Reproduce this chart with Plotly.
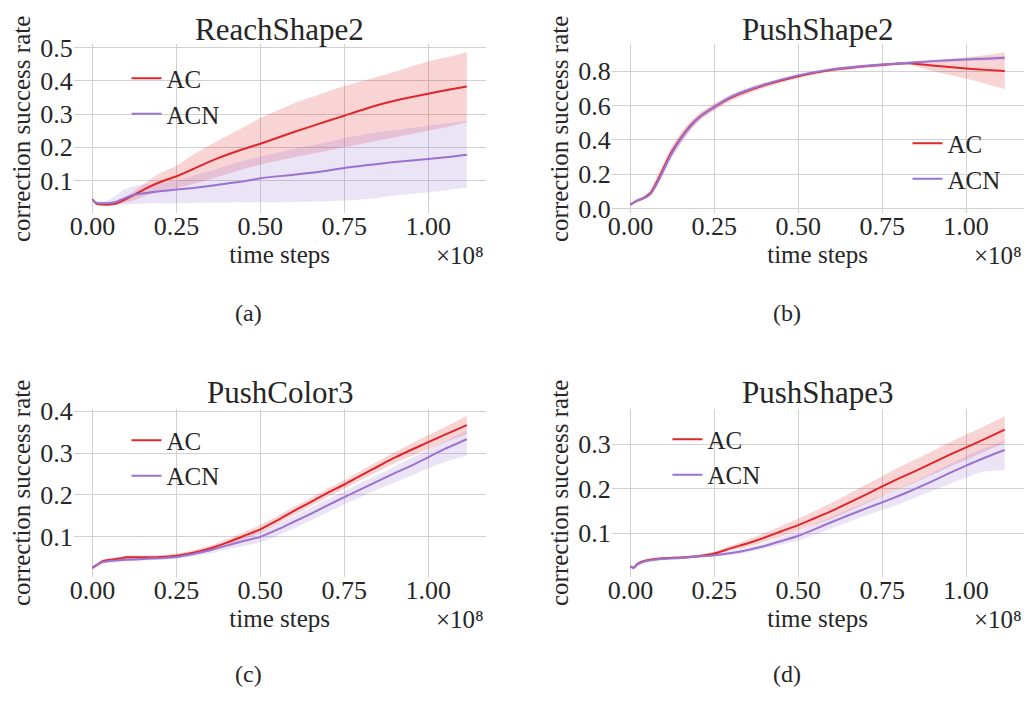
import plotly.graph_objects as go

# ---------------- data (time steps in units of 1e8) ----------------
# (a) ReachShape2
x_a = [0.0, 0.01, 0.03, 0.05, 0.07, 0.09, 0.12, 0.16, 0.2, 0.25, 0.3, 0.37, 0.45, 0.5, 0.6, 0.7, 0.75, 0.85, 0.9, 1.0, 1.06, 1.115]
ac_a = [0.044, 0.032, 0.028, 0.028, 0.031, 0.040, 0.055, 0.077, 0.095, 0.113, 0.135, 0.166, 0.195, 0.211, 0.246, 0.279, 0.295, 0.327, 0.340, 0.361, 0.373, 0.383]
ac_a_hi = [0.046, 0.035, 0.031, 0.031, 0.035, 0.045, 0.065, 0.095, 0.122, 0.145, 0.178, 0.218, 0.260, 0.288, 0.332, 0.367, 0.384, 0.412, 0.427, 0.458, 0.472, 0.486]
ac_a_lo = [0.040, 0.029, 0.025, 0.025, 0.027, 0.032, 0.040, 0.055, 0.066, 0.078, 0.090, 0.110, 0.135, 0.148, 0.170, 0.190, 0.200, 0.220, 0.230, 0.250, 0.262, 0.275]
acn_a = [0.042, 0.034, 0.032, 0.033, 0.036, 0.045, 0.057, 0.063, 0.068, 0.073, 0.078, 0.087, 0.098, 0.107, 0.118, 0.130, 0.138, 0.150, 0.156, 0.165, 0.171, 0.178]
acn_a_hi = [0.045, 0.038, 0.038, 0.042, 0.055, 0.070, 0.082, 0.090, 0.094, 0.100, 0.115, 0.135, 0.160, 0.172, 0.195, 0.215, 0.228, 0.245, 0.252, 0.265, 0.272, 0.280]
acn_a_lo = [0.038, 0.030, 0.027, 0.027, 0.027, 0.028, 0.030, 0.031, 0.032, 0.032, 0.033, 0.034, 0.035, 0.035, 0.036, 0.038, 0.040, 0.048, 0.055, 0.065, 0.072, 0.079]

# (b) PushShape2
x_b = [0.0, 0.02, 0.04, 0.06, 0.08, 0.1, 0.12, 0.15, 0.18, 0.21, 0.25, 0.3, 0.35, 0.4, 0.5, 0.6, 0.7, 0.75, 0.83, 0.9, 1.0, 1.06, 1.115]
ac_b = [0.022, 0.045, 0.062, 0.090, 0.160, 0.240, 0.320, 0.410, 0.485, 0.540, 0.590, 0.645, 0.685, 0.718, 0.770, 0.807, 0.828, 0.836, 0.846, 0.832, 0.815, 0.807, 0.800]
ac_b_hi = [0.030, 0.053, 0.072, 0.110, 0.190, 0.270, 0.350, 0.440, 0.510, 0.562, 0.610, 0.663, 0.702, 0.733, 0.782, 0.817, 0.838, 0.845, 0.855, 0.858, 0.880, 0.893, 0.910]
ac_b_lo = [0.015, 0.037, 0.052, 0.075, 0.135, 0.210, 0.290, 0.380, 0.460, 0.518, 0.570, 0.627, 0.668, 0.703, 0.758, 0.797, 0.818, 0.827, 0.837, 0.800, 0.755, 0.725, 0.695]
acn_b = [0.022, 0.045, 0.060, 0.085, 0.150, 0.230, 0.310, 0.405, 0.480, 0.538, 0.592, 0.650, 0.690, 0.722, 0.775, 0.810, 0.830, 0.838, 0.848, 0.858, 0.868, 0.872, 0.877]
acn_b_hi = [0.028, 0.052, 0.068, 0.100, 0.170, 0.255, 0.335, 0.430, 0.500, 0.555, 0.605, 0.662, 0.700, 0.731, 0.783, 0.818, 0.838, 0.846, 0.856, 0.867, 0.878, 0.883, 0.889]
acn_b_lo = [0.016, 0.038, 0.052, 0.072, 0.130, 0.205, 0.285, 0.380, 0.460, 0.520, 0.578, 0.638, 0.680, 0.713, 0.767, 0.802, 0.822, 0.830, 0.840, 0.849, 0.858, 0.861, 0.865]

# (c) PushColor3
x_c = [0.0, 0.01, 0.03, 0.05, 0.08, 0.1, 0.15, 0.2, 0.25, 0.3, 0.35, 0.4, 0.45, 0.5, 0.55, 0.6, 0.65, 0.7, 0.75, 0.8, 0.85, 0.9, 0.95, 1.0, 1.05, 1.115]
ac_c = [0.026, 0.031, 0.042, 0.045, 0.048, 0.051, 0.051, 0.052, 0.055, 0.062, 0.072, 0.086, 0.102, 0.118, 0.139, 0.162, 0.183, 0.205, 0.225, 0.247, 0.268, 0.289, 0.308, 0.326, 0.344, 0.367]
ac_c_hi = [0.030, 0.035, 0.046, 0.049, 0.052, 0.055, 0.055, 0.056, 0.060, 0.068, 0.079, 0.094, 0.111, 0.128, 0.149, 0.172, 0.193, 0.215, 0.235, 0.258, 0.280, 0.302, 0.323, 0.343, 0.362, 0.389]
ac_c_lo = [0.022, 0.027, 0.038, 0.041, 0.044, 0.047, 0.047, 0.048, 0.051, 0.057, 0.066, 0.079, 0.094, 0.109, 0.130, 0.152, 0.173, 0.195, 0.215, 0.236, 0.256, 0.276, 0.293, 0.309, 0.326, 0.345]
acn_c = [0.027, 0.032, 0.040, 0.042, 0.044, 0.045, 0.047, 0.049, 0.052, 0.059, 0.068, 0.079, 0.090, 0.100, 0.117, 0.136, 0.155, 0.175, 0.195, 0.214, 0.233, 0.252, 0.270, 0.290, 0.310, 0.333]
acn_c_hi = [0.031, 0.036, 0.044, 0.046, 0.048, 0.049, 0.051, 0.053, 0.057, 0.065, 0.075, 0.088, 0.100, 0.112, 0.130, 0.150, 0.170, 0.190, 0.209, 0.229, 0.248, 0.268, 0.288, 0.308, 0.328, 0.354]
acn_c_lo = [0.023, 0.028, 0.036, 0.038, 0.040, 0.041, 0.043, 0.045, 0.047, 0.053, 0.060, 0.070, 0.078, 0.087, 0.102, 0.120, 0.139, 0.158, 0.178, 0.196, 0.213, 0.230, 0.246, 0.264, 0.279, 0.294]

# (d) PushShape3
x_d = [0.0, 0.01, 0.02, 0.04, 0.06, 0.1, 0.15, 0.2, 0.25, 0.3, 0.35, 0.4, 0.45, 0.5, 0.55, 0.6, 0.65, 0.7, 0.75, 0.8, 0.85, 0.9, 0.95, 1.0, 1.05, 1.115]
ac_d = [0.025, 0.022, 0.030, 0.037, 0.040, 0.043, 0.045, 0.048, 0.054, 0.066, 0.077, 0.090, 0.104, 0.118, 0.134, 0.150, 0.168, 0.186, 0.205, 0.223, 0.240, 0.258, 0.276, 0.293, 0.310, 0.333]
ac_d_hi = [0.028, 0.025, 0.033, 0.040, 0.043, 0.046, 0.048, 0.051, 0.058, 0.072, 0.085, 0.100, 0.116, 0.132, 0.150, 0.168, 0.188, 0.208, 0.228, 0.248, 0.266, 0.285, 0.304, 0.322, 0.339, 0.363]
ac_d_lo = [0.022, 0.019, 0.027, 0.034, 0.037, 0.040, 0.042, 0.045, 0.050, 0.060, 0.069, 0.080, 0.092, 0.105, 0.119, 0.133, 0.149, 0.166, 0.183, 0.199, 0.215, 0.232, 0.249, 0.265, 0.282, 0.303]
acn_d = [0.024, 0.022, 0.029, 0.036, 0.039, 0.042, 0.044, 0.047, 0.050, 0.055, 0.062, 0.071, 0.082, 0.094, 0.109, 0.125, 0.140, 0.155, 0.169, 0.184, 0.200, 0.217, 0.235, 0.252, 0.268, 0.287]
acn_d_hi = [0.027, 0.025, 0.032, 0.039, 0.042, 0.045, 0.047, 0.050, 0.053, 0.059, 0.067, 0.077, 0.090, 0.104, 0.120, 0.137, 0.153, 0.169, 0.184, 0.200, 0.217, 0.236, 0.255, 0.273, 0.290, 0.308]
acn_d_lo = [0.021, 0.019, 0.026, 0.033, 0.036, 0.039, 0.041, 0.044, 0.047, 0.051, 0.057, 0.065, 0.074, 0.083, 0.096, 0.111, 0.125, 0.139, 0.152, 0.165, 0.180, 0.195, 0.210, 0.225, 0.238, 0.242]

titles = ["ReachShape2", "PushShape2", "PushColor3", "PushShape3"]
sub_labels = ["(a)", "(b)", "(c)", "(d)"]
series_names = ["AC", "ACN"]
x_tick_vals = [0.0, 0.25, 0.5, 0.75, 1.0]
x_tick_text = ["0.00", "0.25", "0.50", "0.75", "1.00"]
y_ticks_a = [0.1, 0.2, 0.3, 0.4, 0.5]
y_ticks_b = [0.0, 0.2, 0.4, 0.6, 0.8]
y_ticks_c = [0.1, 0.2, 0.3, 0.4]
y_ticks_d = [0.1, 0.2, 0.3]
x_scale_text = "×10⁸"

# ---------------- styling ----------------
W, H = 1029, 701
FONT = "Liberation Serif, Times New Roman, serif"
TXT = "#262626"
RED = "#e0262b"
PURPLE = "#9a72d0"
RED_FILL = "rgba(224,38,43,0.2)"
PURPLE_FILL = "rgba(154,114,208,0.2)"
GRID = "#d0d0d0"
TICK_SIZE = 26


def px_x(p):
    return p / W


def px_y(p):
    return 1 - p / H


col_dom = [[px_x(70), px_x(483.5)], [px_x(610), px_x(1023.5)]]
row_dom = [[px_y(208.5), px_y(34.5)], [px_y(583.5), px_y(410)]]

panels = [
    dict(x=x_a, ac=(ac_a, ac_a_lo, ac_a_hi), acn=(acn_a, acn_a_lo, acn_a_hi),
         yticks=y_ticks_a, yfmt="{:.1f}", yrange=[0.002, 0.509], row=0, col=0,
         legend=dict(x=123, y=46)),
    dict(x=x_b, ac=(ac_b, ac_b_lo, ac_b_hi), acn=(acn_b, acn_b_lo, acn_b_hi),
         yticks=y_ticks_b, yfmt="{:.1f}", yrange=[-0.028, 0.955], row=0, col=1,
         legend=dict(x=907, y=113)),
    dict(x=x_c, ac=(ac_c, ac_c_lo, ac_c_hi), acn=(acn_c, acn_c_lo, acn_c_hi),
         yticks=y_ticks_c, yfmt="{:.1f}", yrange=[0.004, 0.406], row=1, col=0,
         legend=dict(x=123, y=419)),
    dict(x=x_d, ac=(ac_d, ac_d_lo, ac_d_hi), acn=(acn_d, acn_d_lo, acn_d_hi),
         yticks=y_ticks_d, yfmt="{:.1f}", yrange=[0.001, 0.380], row=1, col=1,
         legend=dict(x=666, y=418)),
]

fig = go.Figure()
layout = dict(
    width=W, height=H, autosize=False,
    margin=dict(l=0, r=0, t=0, b=0),
    paper_bgcolor="white", plot_bgcolor="white",
    font=dict(family=FONT, size=25, color=TXT),
    annotations=[],
)

for i, p in enumerate(panels):
    k = "" if i == 0 else str(i + 1)
    xa, ya = "x" + k, "y" + k
    leg = "legend" + k
    for (name, (m, lo, hi)), lc, fc in zip([("AC", p["ac"]), ("ACN", p["acn"])], [RED, PURPLE], [RED_FILL, PURPLE_FILL]):
        fig.add_trace(go.Scatter(x=p["x"], y=lo, xaxis=xa, yaxis=ya, mode="lines",
                                 line=dict(width=0, color=lc, shape="spline", smoothing=0.6),
                                 showlegend=False, hoverinfo="skip"))
        fig.add_trace(go.Scatter(x=p["x"], y=hi, xaxis=xa, yaxis=ya, mode="lines",
                                 line=dict(width=0, color=lc, shape="spline", smoothing=0.6),
                                 fill="tonexty", fillcolor=fc,
                                 showlegend=False, hoverinfo="skip"))
    for name, (m, lo, hi), lc in [("AC", p["ac"], RED), ("ACN", p["acn"], PURPLE)]:
        fig.add_trace(go.Scatter(x=p["x"], y=m, xaxis=xa, yaxis=ya, mode="lines", name=name,
                                 line=dict(width=2, color=lc, shape="spline", smoothing=0.6),
                                 legend=leg))

    layout["xaxis" + k] = dict(
        domain=col_dom[p["col"]], anchor=ya, range=[-0.056, 1.171],
        tickvals=x_tick_vals, ticktext=x_tick_text, showgrid=True, gridcolor=GRID, gridwidth=1,
        zeroline=False, showline=False, ticks="", tickfont=dict(size=TICK_SIZE, color=TXT),
        ticklabelstandoff=-5,
        title=dict(text="time steps", font=dict(size=25, color=TXT), standoff=0),
    )
    layout["yaxis" + k] = dict(
        domain=row_dom[p["row"]], anchor=xa, range=p["yrange"],
        tickvals=p["yticks"], ticktext=[p["yfmt"].format(v) for v in p["yticks"]],
        showgrid=True, gridcolor=GRID, gridwidth=1,
        zeroline=False, showline=False, ticks="", tickfont=dict(size=TICK_SIZE, color=TXT),
        title=dict(text="correction success rate", font=dict(size=25, color=TXT), standoff=2),
    )
    layout[leg] = dict(
        x=px_x(p["legend"]["x"]), y=px_y(p["legend"]["y"]), xanchor="left", yanchor="top",
        bgcolor="rgba(0,0,0,0)", font=dict(size=25, color=TXT), borderwidth=0,
        traceorder="normal",
    )
    cx0, cx1 = col_dom[p["col"]]
    cx = (cx0 + cx1) / 2
    title_y = 19 if p["row"] == 0 else 393
    lab_y = 311 if p["row"] == 0 else 683
    off_y = 252 if p["row"] == 0 else 627
    layout["annotations"] += [
        dict(text=titles[i], x=cx, y=px_y(title_y), xref="paper", yref="paper",
             xanchor="center", yanchor="middle", showarrow=False, font=dict(size=31, color=TXT)),
        dict(text=sub_labels[i], x=cx - px_x(31), y=px_y(lab_y), xref="paper", yref="paper",
             xanchor="center", yanchor="middle", showarrow=False, font=dict(size=24, color=TXT)),
        dict(text=x_scale_text, x=cx1, y=px_y(off_y), xref="paper", yref="paper",
             xanchor="right", yanchor="middle", showarrow=False, font=dict(size=25, color=TXT)),
    ]

fig.update_layout(**layout)

post = "document.body.style.margin='0';document.body.style.overflow='hidden';"
fig.write_html("out.html", config={"displayModeBar": False}, post_script=post)
